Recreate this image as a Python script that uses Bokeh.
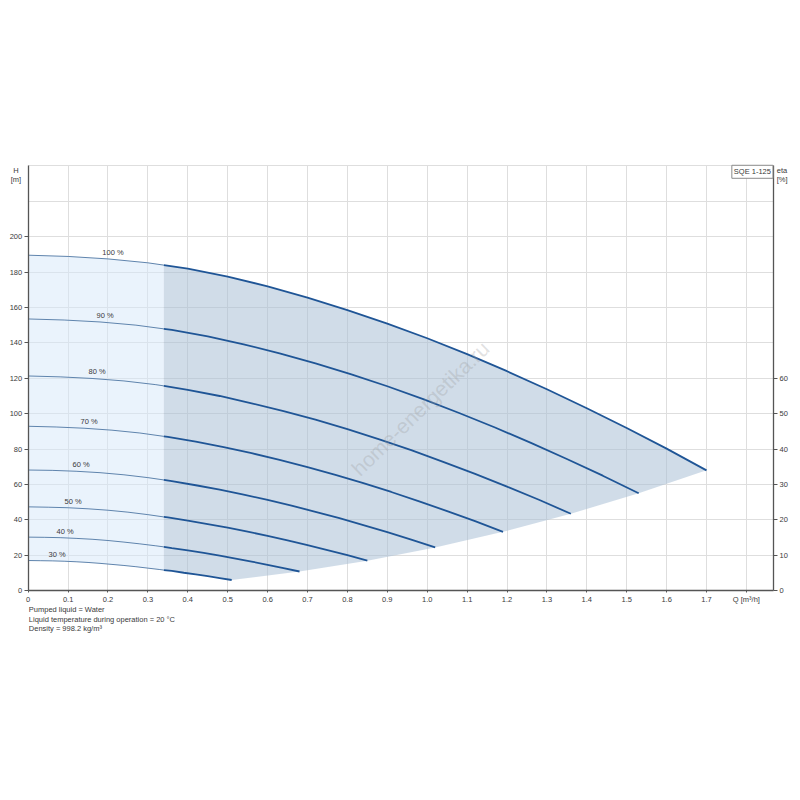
from bokeh.plotting import figure
from bokeh.models import Range1d, LinearAxis, FixedTicker, Label, ColumnDataSource
from bokeh.embed import file_html
from bokeh.resources import INLINE
from bokeh.core.properties import value

# ---------------- data ----------------
speeds = ["100 %", "90 %", "80 %", "70 %", "60 %", "50 %", "40 %", "30 %"]

q100 = [0, 0.1, 0.2, 0.3, 0.34, 0.4, 0.5, 0.6, 0.7, 0.8, 0.9, 1.0, 1.1, 1.2, 1.3, 1.4, 1.5, 1.6, 1.7]
h100 = [189.5, 188.8, 187.4, 185.2, 183.9, 181.9, 177.4, 171.9, 165.5, 158.5, 150.9, 142.6, 133.6, 124.0, 113.8, 103.1, 91.9, 80.3, 68.0]

q90 = [0, 0.09, 0.18, 0.27, 0.34, 0.36, 0.45, 0.54, 0.63, 0.72, 0.81, 0.9, 0.99, 1.08, 1.17, 1.26, 1.35, 1.44, 1.53]
h90 = [153.5, 152.9, 151.8, 150.0, 147.9, 147.3, 143.7, 139.2, 134.1, 128.4, 122.2, 115.5, 108.2, 100.4, 92.2, 83.5, 74.4, 65.0, 55.1]

q80 = [0, 0.08, 0.16, 0.24, 0.32, 0.34, 0.40, 0.48, 0.56, 0.64, 0.72, 0.80, 0.88, 0.96, 1.04, 1.12, 1.20, 1.28, 1.36]
h80 = [121.3, 120.8, 119.9, 118.5, 116.4, 115.7, 113.5, 110.0, 105.9, 101.4, 96.6, 91.3, 85.5, 79.4, 72.8, 66.0, 58.8, 51.4, 43.5]

q70 = [0, 0.07, 0.14, 0.21, 0.28, 0.34, 0.35, 0.42, 0.49, 0.56, 0.63, 0.70, 0.77, 0.84, 0.91, 0.98, 1.05, 1.12, 1.19]
h70 = [92.9, 92.5, 91.8, 90.7, 89.1, 87.2, 86.9, 84.2, 81.1, 77.7, 73.9, 69.9, 65.5, 60.8, 55.8, 50.5, 45.0, 39.3, 33.3]

q60 = [0, 0.06, 0.12, 0.18, 0.24, 0.30, 0.34, 0.36, 0.42, 0.48, 0.54, 0.60, 0.66, 0.72, 0.78, 0.84, 0.90, 0.96, 1.02]
h60 = [68.2, 68.0, 67.5, 66.7, 65.5, 63.9, 62.6, 61.9, 59.6, 57.1, 54.3, 51.3, 48.1, 44.6, 41.0, 37.1, 33.1, 28.9, 24.5]

q50 = [0, 0.05, 0.10, 0.15, 0.20, 0.25, 0.30, 0.34, 0.35, 0.40, 0.45, 0.50, 0.55, 0.60, 0.65, 0.70, 0.75, 0.80, 0.85]
h50 = [47.4, 47.2, 46.9, 46.3, 45.5, 44.4, 43.0, 41.7, 41.4, 39.6, 37.7, 35.7, 33.4, 31.0, 28.5, 25.8, 23.0, 20.1, 17.0]

q40 = [0, 0.04, 0.08, 0.12, 0.16, 0.20, 0.24, 0.28, 0.32, 0.34, 0.36, 0.40, 0.44, 0.48, 0.52, 0.56, 0.60, 0.64, 0.68]
h40 = [30.3, 30.2, 30.0, 29.6, 29.1, 28.4, 27.5, 26.5, 25.4, 24.8, 24.1, 22.8, 21.4, 19.8, 18.2, 16.5, 14.7, 12.8, 10.9]

q30 = [0, 0.03, 0.06, 0.09, 0.12, 0.15, 0.18, 0.21, 0.24, 0.27, 0.30, 0.33, 0.34, 0.36, 0.39, 0.42, 0.45, 0.48, 0.51]
h30 = [17.1, 17.0, 16.9, 16.7, 16.4, 16.0, 15.5, 14.9, 14.3, 13.6, 12.8, 12.0, 11.7, 11.2, 10.2, 9.3, 8.3, 7.2, 6.1]

split_q = 0.34  # start of the recommended operating range

x_ticks = [0, 0.1, 0.2, 0.3, 0.4, 0.5, 0.6, 0.7, 0.8, 0.9, 1.0, 1.1, 1.2, 1.3, 1.4, 1.5, 1.6, 1.7, 1.8]
x_tick_labels = ["0", "0.1", "0.2", "0.3", "0.4", "0.5", "0.6", "0.7", "0.8", "0.9", "1.0",
                 "1.1", "1.2", "1.3", "1.4", "1.5", "1.6", "1.7", "Q [m³/h]"]
h_ticks = [0, 20, 40, 60, 80, 100, 120, 140, 160, 180, 200]
h_grid = [20, 40, 60, 80, 100, 120, 140, 160, 180, 200, 220, 240]
eta_ticks = [0, 10, 20, 30, 40, 50, 60]

notes = ["Pumped liquid = Water",
         "Liquid temperature during operation = 20 °C",
         "Density = 998.2 kg/m³"]
model_name = "SQE 1-125"
watermark = "home-energetika.ru"

# ---------------- figure ----------------
FONT = "Liberation Sans"
TXT = "#3a3a3a"
Q_MAX = 1.868     # right edge of the diagram
H_MAX = 240

p = figure(width=790, height=650,
           x_range=Range1d(-0.0694, 1.9105), y_range=Range1d(-33.71, 333.32),
           output_backend="svg", toolbar_location=None,
           min_border_left=0, min_border_right=0, min_border_top=0, min_border_bottom=0,
           background_fill_color="white", border_fill_color="white")
p.outline_line_color = None

curves = [(q100, h100), (q90, h90), (q80, h80), (q70, h70),
          (q60, h60), (q50, h50), (q40, h40), (q30, h30)]

def split(q, h):
    i = q.index(split_q)
    return (q[:i + 1], h[:i + 1]), (q[i:], h[i:])

# grids (limited to the diagram box)
GRID = "#dedede"
p.xgrid.ticker = FixedTicker(ticks=x_ticks)
p.ygrid.ticker = FixedTicker(ticks=h_grid)
try:
    p.xgrid.cross_bounds = (0, H_MAX)
    p.ygrid.cross_bounds = (0, Q_MAX)
    for g in (p.xgrid, p.ygrid):
        g.grid_line_color = GRID
        g.grid_line_width = 1
except Exception:
    p.xgrid.visible = False
    p.ygrid.visible = False
    p.segment(x0=x_ticks, y0=[0] * len(x_ticks), x1=x_ticks, y1=[H_MAX] * len(x_ticks),
              line_color=GRID, line_width=1)
    p.segment(x0=[0] * len(h_grid), y0=h_grid, x1=[Q_MAX] * len(h_grid), y1=h_grid,
              line_color=GRID, line_width=1)

# light region (left of operating range)
(tq_top, th_top), (kq_top, kh_top) = split(q100, h100)
(tq_bot, th_bot), (kq_bot, kh_bot) = split(q30, h30)
p.patch(tq_top + tq_bot[::-1], th_top + th_bot[::-1],
        fill_color="#d6e8fa", fill_alpha=0.5, line_color=None)

# shaded operating region
end_q = [c[0][-1] for c in curves[1:-1]]
end_h = [c[1][-1] for c in curves[1:-1]]
p.patch(kq_top + end_q + kq_bot[::-1], kh_top + end_h + kh_bot[::-1],
        fill_color="#a9c0d6", fill_alpha=0.55, line_color=None)

THIN = "#5f84ad"
THICK = "#1f5596"
for q, h in curves:
    (tq, th), (kq, kh) = split(q, h)
    p.line(tq, th, line_color=THIN, line_width=1.0)
    p.line(kq, kh, line_color=THICK, line_width=1.8)

# curve labels
lab_src = ColumnDataSource(dict(x=[c[0][2] for c in curves],
                                y=[c[1][2] for c in curves],
                                t=speeds))
p.text(x="x", y="y", text="t", source=lab_src, x_offset=5, y_offset=-2,
       text_align="center", text_baseline="bottom",
       text_font=value(FONT), text_font_size="7.5px", text_color=TXT)

# axes
AX = "#555555"
xa = p.xaxis[0]
xa.ticker = FixedTicker(ticks=x_ticks)
xa.major_label_overrides = {t: l for t, l in zip(x_ticks, x_tick_labels)}
xa.fixed_location = 0
xa.bounds = (0, Q_MAX)

ya = p.yaxis[0]
ya.ticker = FixedTicker(ticks=h_ticks)
ya.major_label_overrides = {t: str(t) for t in h_ticks}
ya.fixed_location = 0
ya.bounds = (0, H_MAX)

p.extra_y_ranges = {"eta": Range1d(-33.71 / 2, 333.32 / 2)}
ra = LinearAxis(y_range_name="eta", ticker=FixedTicker(ticks=eta_ticks))
ra.major_label_overrides = {t: str(t) for t in eta_ticks}
ra.fixed_location = Q_MAX
ra.bounds = (0, H_MAX / 2)
p.add_layout(ra, "right")

for ax in (xa, ya, ra):
    ax.axis_line_color = AX
    ax.axis_line_width = 1.3
    ax.major_tick_line_color = AX
    ax.major_tick_in = 0
    ax.major_tick_out = 4
    ax.minor_tick_line_color = None
    ax.major_label_text_font = FONT
    ax.major_label_text_font_size = "7.5px"
    ax.major_label_text_color = TXT
    ax.major_label_standoff = 2
xa.major_tick_out = 2

# axis titles
for txt, yy in (("H", 237.3), ("[m]", 232.2)):
    p.add_layout(Label(x=-0.0306, y=yy, text=txt, text_align="center", text_baseline="middle",
                       text_font=FONT, text_font_size="7.5px", text_color=TXT))
for txt, yy in (("eta", 237.3), ("[%]", 232.2)):
    p.add_layout(Label(x=1.876, y=yy, text=txt, text_align="left", text_baseline="middle",
                       text_font=FONT, text_font_size="7.5px", text_color=TXT))

# model box
p.add_layout(Label(x=1.815, y=236.6, text=model_name, text_align="center", text_baseline="middle",
                   text_font=FONT, text_font_size="7.5px", text_color=TXT,
                   background_fill_color="white", border_line_color="#8a8a8a",
                   border_line_width=1, padding=2))

# notes below
for txt, yy in zip(notes, (-10.7, -16.0, -21.4)):
    p.add_layout(Label(x=0.0015, y=yy, text=txt, text_align="left", text_baseline="middle",
                       text_font=FONT, text_font_size="7.5px", text_color=TXT))

# watermark
p.add_layout(Label(x=0.983, y=103, text=watermark, text_align="center", text_baseline="middle",
                   angle=0.77, text_font=FONT, text_font_size="21px",
                   text_color="#9a9a9a", text_alpha=0.3))

open("out.html", "w").write(file_html(p, INLINE))
